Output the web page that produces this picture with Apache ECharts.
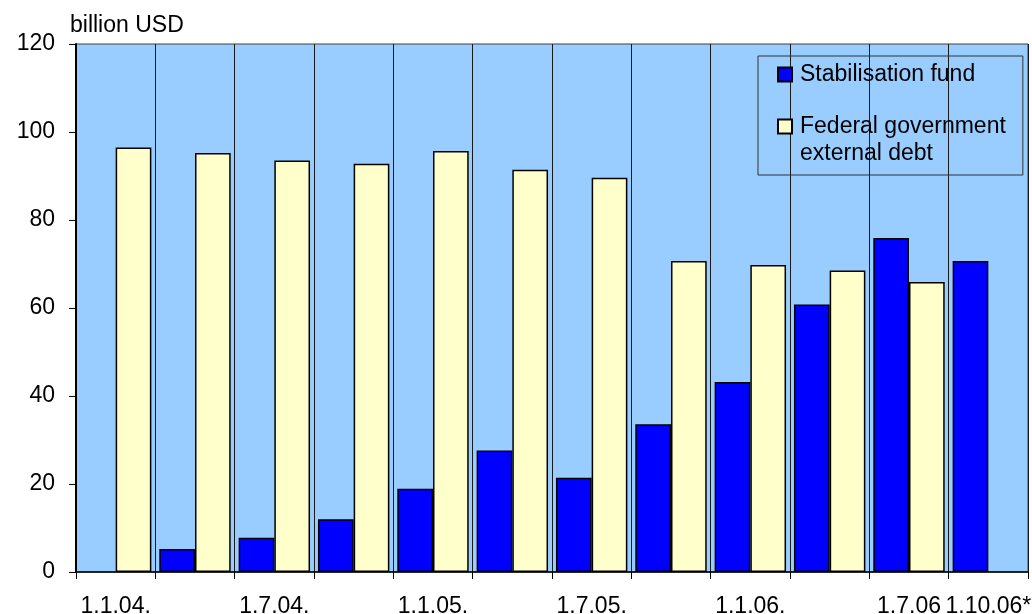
<!DOCTYPE html>
<html>
<head>
<meta charset="utf-8">
<script src="https://cdn.jsdelivr.net/npm/echarts@6/dist/echarts.min.js"></script>
<style>
  html, body { margin: 0; padding: 0; background: #ffffff; }
  #chart { width: 1032px; height: 614px; }
</style>
</head>
<body>
<div id="chart"></div>
<script>
// Quarterly reporting dates
const categories = ['1.1.04.', '1.4.04.', '1.7.04.', '1.10.04.', '1.1.05.', '1.4.05.',
                    '1.7.05.', '1.10.05.', '1.1.06.', '1.4.06.', '1.7.06', '1.10.06*'];
// Only these dates carry a label on the axis
const labelledIndexes = [0, 2, 4, 6, 8, 10, 11];

// billion USD
const stabilisationFund = [null, 5.2, 7.8, 12.0, 18.9, 27.6, 21.4, 33.6, 43.2, 60.8, 75.9, 70.7];
const externalDebt = [96.5, 95.2, 93.5, 92.8, 95.7, 91.4, 89.6, 70.7, 69.8, 68.5, 65.9, null];

const yTicks = { min: 0, max: 120, interval: 20 };
const seriesNames = ['Stabilisation fund', 'Federal government\nexternal debt'];

const FONT = '"Liberation Sans", Arial, sans-serif';
const FS = 23;

const chart = echarts.init(document.getElementById('chart'), null, { renderer: 'canvas' });

chart.setOption({
  animation: false,
  backgroundColor: '#ffffff',
  textStyle: { fontFamily: FONT, color: '#000' },
  grid: {
    left: 76, right: 4, top: 44, bottom: 42,
    outerBoundsMode: 'none',
    show: true,
    backgroundColor: '#99CCFF',
    borderColor: '#404040',
    borderWidth: 1
  },
  legend: {
    orient: 'vertical',
    left: 758, top: 56,
    padding: [5, 17, 8, 19],
    itemGap: -2,
    itemWidth: 14, itemHeight: 14,
    icon: 'rect',
    borderColor: '#333',
    borderWidth: 1,
    data: seriesNames,
    // put the marker next to the first line of a wrapped name
    formatter: name => name.indexOf('\n') >= 0 ? '\n' + name : name,
    textStyle: { fontFamily: FONT, fontSize: FS, lineHeight: 27, color: '#000', padding: [0, 0, 0, 3] }
  },
  xAxis: {
    type: 'category',
    data: categories,
    boundaryGap: true,
    axisLine: { show: true, lineStyle: { color: '#000', width: 1.5 } },
    axisTick: { show: true, inside: false, length: 7, interval: 0, lineStyle: { color: '#000', width: 1 } },
    axisLabel: {
      interval: (i) => labelledIndexes.indexOf(i) >= 0,
      margin: 23,
      fontSize: FS,
      fontFamily: FONT,
      color: '#000'
    },
    splitLine: { show: true, interval: 0, lineStyle: { color: '#1a1a1a', width: 1 } }
  },
  yAxis: {
    type: 'value',
    min: yTicks.min, max: yTicks.max, interval: yTicks.interval,
    name: 'billion USD',
    nameLocation: 'end',
    nameGap: 18,
    nameTextStyle: { fontSize: FS, fontFamily: FONT, color: '#000', align: 'left', verticalAlign: 'middle', padding: [0, 0, 0, -6] },
    axisLine: { show: true, lineStyle: { color: '#000', width: 2 } },
    axisTick: { show: true, inside: false, length: 7, lineStyle: { color: '#000', width: 1 } },
    axisLabel: { margin: 21, fontSize: FS, fontFamily: FONT, color: '#000' },
    splitLine: { show: false }
  },
  series: [
    {
      name: seriesNames[0],
      type: 'bar',
      data: stabilisationFund,
      barGap: '0%',
      barCategoryGap: '10%',
      itemStyle: { color: '#0000FF', borderColor: '#000', borderWidth: 1.5 }
    },
    {
      name: seriesNames[1],
      type: 'bar',
      data: externalDebt,
      barGap: '0%',
      barCategoryGap: '10%',
      itemStyle: { color: '#FFFFCC', borderColor: '#000', borderWidth: 1.5 }
    }
  ]
});
</script>
</body>
</html>
